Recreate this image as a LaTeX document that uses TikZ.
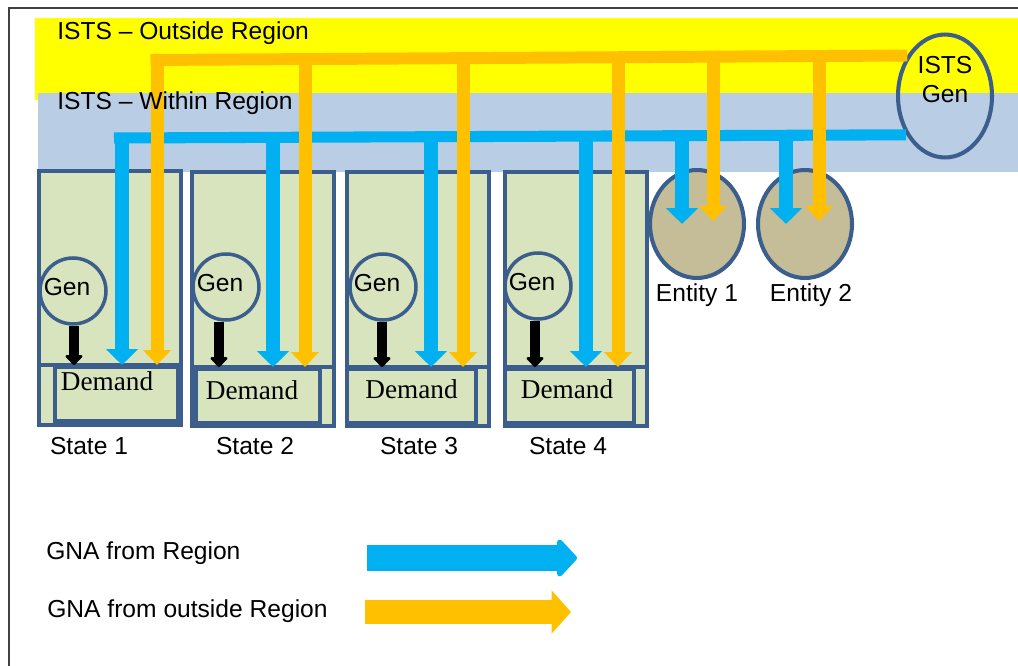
\documentclass[tikz,border=0pt]{standalone}
\usepackage{fontspec}
\setmainfont{Liberation Sans}
\newfontfamily\demandfont{Liberation Serif}
\usetikzlibrary{arrows.meta,shapes.geometric,positioning}

\definecolor{bandyellow}{HTML}{FFFF00}
\definecolor{bandblue}{HTML}{B9CDE5}
\definecolor{boxgreen}{HTML}{D7E4BD}
\definecolor{entitytan}{HTML}{C4BD97}
\definecolor{edgeblue}{HTML}{3B5E8C}
\definecolor{gnablue}{HTML}{00B0F0}
\definecolor{gnaorange}{HTML}{FFC000}

\begin{document}
\begin{tikzpicture}[x=0.02cm,y=-0.02cm,
    font=\fontsize{14}{16.5}\selectfont,
    statebox/.style={draw=edgeblue,line width=2.3pt,fill=boxgreen,minimum width=2.84cm,minimum height=5.08cm,anchor=north west,inner sep=0pt},
    demandbox/.style={draw=edgeblue,line width=2.3pt,minimum height=1.08cm,anchor=north west,inner sep=0pt},
    demandtext/.style={font=\demandfont\fontsize{15.5}{17}\selectfont},
    gencircle/.style={circle,draw=edgeblue,line width=2pt,minimum size=1.32cm,inner sep=0pt},
    entity/.style={ellipse,draw=edgeblue,line width=2.3pt,fill=entitytan,minimum width=1.88cm,minimum height=2.16cm},
    plain/.style={inner sep=0pt},
    bluebus/.style={gnablue,line width=6.3pt},
    orangebus/.style={gnaorange,line width=6.8pt},
    bluedrop/.style={gnablue,line width=8.5pt,-{Triangle[width=17.6pt,length=9pt]}},
    orangedrop/.style={gnaorange,line width=7.4pt,-{Triangle[width=15.4pt,length=8.5pt]}},
    genarrow/.style={black,line width=5.7pt,-{Triangle[round,width=11.4pt,length=6pt]}},
    legendblue/.style={gnablue,line width=15pt,-{Triangle[round,width=25pt,length=12pt]}},
    legendorange/.style={gnaorange,line width=13.5pt,-{Triangle[width=24pt,length=11pt]}},
  ]
  \useasboundingbox (0,0) rectangle (1018,666);
  % frame
  \draw[black!75,line width=0.9pt] (9,666) -- (9,8) -- (1018,8);
  % the two regions
  \fill[bandyellow] (35,18) rectangle (1018,100);
  \fill[bandblue] (38,93) rectangle (1018,172);

  % states
  \foreach \bx/\by/\dx/\dy/\dw/\tx/\ty/\gx/\gy/\kx/\ux/\ut/\ox/\ot/\lx/\n in
      {37/169/53/365/2.46/-0.19/0.25/73/291/74/122/132.5/157/54/89/1,
       190/170/194/367/2.48/-0.12/0.12/226/287/219/273/137/305/58/255/2,
       345/170/345/367/2.58/0/0.14/383/287/382/431/137/463/58/419/3,
       503/170/503/367/2.58/-0.05/0.14/538/286/535/586/136/618/57/568/4}
  {
    \node[statebox] (st\n) at (\bx,\by) {};
    \node[demandbox,minimum width=\dw cm,
          label={[demandtext,xshift=\tx cm,yshift=\ty cm]center:Demand}] (dem\n) at (\dx,\dy) {};
    \draw[edgeblue,line width=2.3pt] (st\n.west |- dem\n.north) -- (st\n.east |- dem\n.north);
    \node[gencircle,label={[xshift=-0.12cm,yshift=0.08cm]center:Gen}] (gen\n) at (\gx,\gy) {};
    \coordinate (gk\n) at (\kx,\gy);
    \draw[genarrow] (gk\n |- gen\n.south) -- (gk\n |- dem\n.north);
    \coordinate (btop\n) at (\ux,\ut);
    \coordinate (otop\n) at (\ox,\ot);
    \node (lab\n) at (\lx,446) {State \n};
  }

  % entities and the ISTS generator
  \node[entity] (ent1) at (697,224) {};
  \node[entity] (ent2) at (805,224) {};
  \node (entlab1) at (697,295) {Entity 1};
  \node (entlab2) at (811,295) {Entity 2};
  \node[ellipse,draw=edgeblue,line width=2.3pt,minimum width=1.88cm,minimum height=2.46cm,
        label={[align=center,yshift=0.32cm]center:ISTS\\Gen}] (isg) at (945,96) {};

  % buses
  \coordinate (bluecorner) at (114,138);
  \coordinate (orangecorner) at (150.5,60);
  \draw[bluebus] (isg.225) -- (bluecorner);
  \draw[orangebus] (isg.133) -- (orangecorner);
  \coordinate (btop5) at (682,134);
  \coordinate (btop6) at (786,134);
  \coordinate (otop5) at (713,57);
  \coordinate (otop6) at (819,57);
  \foreach \n in {1,...,4}
  {
    \draw[bluedrop] (btop\n) -- (btop\n |- dem\n.north);
    \draw[orangedrop] (otop\n) -- (otop\n |- dem\n.north);
  }
  \draw[bluedrop] (btop5) -- (btop5 |- ent1.center);
  \draw[orangedrop] (otop5) -- ([yshift=0.06cm]otop5 |- ent1.center);
  \draw[bluedrop] (btop6) -- (btop6 |- ent2.center);
  \draw[orangedrop] (otop6) -- ([yshift=0.06cm]otop6 |- ent2.center);

  % region names sit on top of the lines
  \node[plain,anchor=west] (outside) at (57,33) {ISTS – Outside Region};
  \node[plain,anchor=west] (within) at (57,103) {ISTS – Within Region};

  % legend
  \node[plain,anchor=west] (legregion) at (46,553) {GNA from Region};
  \node[plain,anchor=west] (legoutside) at (47,611) {GNA from outside Region};
  \coordinate (lbs) at (367,558);
  \coordinate (lbe) at (577,558);
  \coordinate (los) at (365,612);
  \coordinate (loe) at (571,612);
  \draw[legendblue] (lbs) -- (lbe);
  \draw[legendorange] (los) -- (loe);
\end{tikzpicture}
\end{document}
